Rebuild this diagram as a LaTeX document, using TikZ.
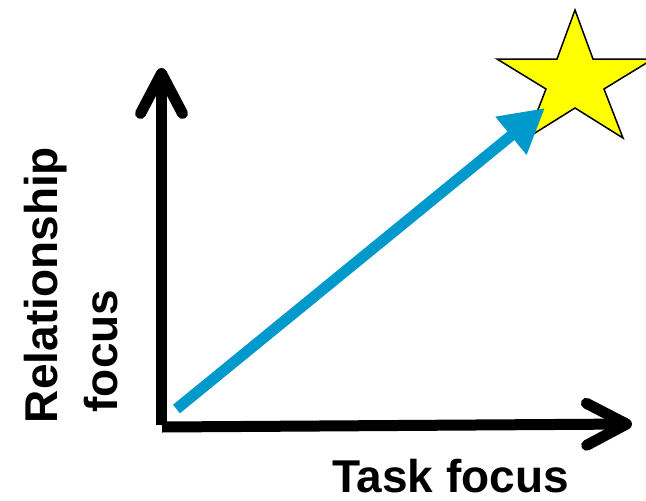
\documentclass[tikz,border=0pt]{standalone}
\usepackage{fontspec}
\setmainfont{Liberation Sans}
\usetikzlibrary{arrows.meta}
\definecolor{trendblue}{HTML}{0099CC}
\definecolor{staryellow}{HTML}{FFFF00}

\begin{document}
\begin{tikzpicture}[x=1pt, y=-1pt, font=\fontsize{46}{52}\selectfont\bfseries,
  axis/.style={line width=11pt, -{Straight Barb[length=40pt, width=42pt, round]}},
  trend/.style={line width=11pt, trendblue, -{Triangle[length=44pt, width=46pt]}},
  label/.style={anchor=base, inner sep=0pt, text depth=0pt}]
  \useasboundingbox (0,0) rectangle (646,501);
  \coordinate (corner) at (161.5,425);
  \coordinate (origin) at (162,427);
  \coordinate (ytip) at (161.5,68);
  \coordinate (xtip) at (632,424);
  \draw[fill=staryellow, line width=1.5pt, line join=miter]
    (575,10) -- (593,59) -- (653,59) -- (604,89) -- (623,138) -- (575,108)
    -- (527,138) -- (546,89) -- (497,59) -- (557,59) -- cycle;
  \draw[axis] (corner) -- (ytip);
  \draw[axis] (origin) -- (xtip);
  \coordinate (start) at (176.5,409);
  \coordinate (goal) at (545,108);
  \draw[trend] (start) -- (goal);
  \node[label] (xlabel) at (450.5,492) {Task focus};
  \node[label, rotate=90] (ylabel) at (57,285) {Relationship};
  \node[label, rotate=90] (ylabel2) at (117,351) {focus};
\end{tikzpicture}
\end{document}
